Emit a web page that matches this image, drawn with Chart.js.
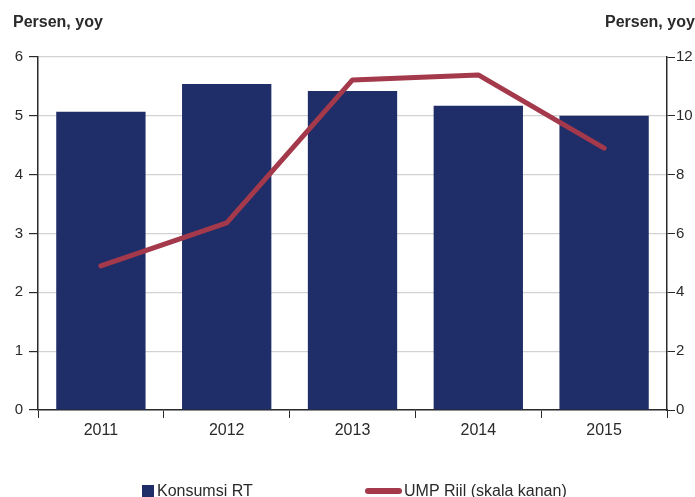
<!DOCTYPE html>
<html>
<head>
<meta charset="utf-8">
<title>Konsumsi RT dan UMP Riil</title>
<script src="https://cdn.jsdelivr.net/npm/chart.js@4/dist/chart.umd.min.js"></script>
<style>
  html, body { margin: 0; padding: 0; background: #fff; overflow: hidden; }
  #wrap { position: relative; width: 695px; height: 497px; overflow: hidden; }
  canvas { position: absolute; left: 0; top: 0; }
</style>
</head>
<body>
<div id="wrap">
  <canvas id="konsumsiChart" width="710" height="497"></canvas>
</div>
<script>
// Tahun dan nilai pertumbuhan (persen, yoy)
const years = ['2011', '2012', '2013', '2014', '2015'];
const konsumsiRT = [5.07, 5.54, 5.42, 5.17, 5.0];
const umpRiil = [4.9, 6.36, 11.22, 11.39, 8.9];
const leftTicks = [0, 1, 2, 3, 4, 5, 6];
const rightTicks = [0, 2, 4, 6, 8, 10, 12];
const axisTitle = 'Persen, yoy';

const FONT = '"Liberation Sans", Arial, sans-serif';
const NAVY = '#1f2d68';
const RED = '#a3394a';
const INK = '#2a2a2a';

// Judul sumbu dan legenda digambar di atas kanvas
const decorPlugin = {
  id: 'decor',
  afterDraw(chart) {
    const ctx = chart.ctx;
    ctx.save();
    ctx.fillStyle = INK;
    ctx.textBaseline = 'alphabetic';
    ctx.textAlign = 'left';
    ctx.font = 'bold 16px ' + FONT;
    ctx.fillText(axisTitle, 13, 27);
    ctx.fillText(axisTitle, 605, 27);

    // legenda: kotak untuk batang, garis untuk UMP
    const bars = chart.data.datasets.find(d => d.type === 'bar');
    const line = chart.data.datasets.find(d => d.type === 'line');
    ctx.font = '16px ' + FONT;
    ctx.fillStyle = bars.backgroundColor;
    ctx.fillRect(142, 485, 12, 12);
    ctx.fillStyle = INK;
    ctx.fillText(bars.label, 157, 496);

    ctx.strokeStyle = line.borderColor;
    ctx.lineWidth = 6;
    ctx.lineCap = 'round';
    ctx.beginPath();
    ctx.moveTo(368, 491);
    ctx.lineTo(399, 491);
    ctx.stroke();
    ctx.fillText(line.label, 404, 496);
    ctx.restore();
  }
};

const ctx = document.getElementById('konsumsiChart').getContext('2d');
const chart = new Chart(ctx, {
  type: 'bar',
  data: {
    labels: years,
    datasets: [
      {
        type: 'line',
        label: 'UMP Riil (skala kanan)',
        data: umpRiil,
        yAxisID: 'y1',
        borderColor: RED,
        backgroundColor: RED,
        borderWidth: 5,
        borderCapStyle: 'round',
        borderJoinStyle: 'round',
        pointRadius: 0,
        tension: 0,
        order: 0
      },
      {
        type: 'bar',
        label: 'Konsumsi RT',
        data: konsumsiRT,
        yAxisID: 'y',
        backgroundColor: NAVY,
        borderWidth: 0,
        categoryPercentage: 1,
        barPercentage: 0.71,
        order: 1
      }
    ]
  },
  options: {
    responsive: false,
    animation: false,
    layout: { padding: { top: 57, left: 0, right: 0, bottom: 0 } },
    plugins: {
      legend: { display: false },
      tooltip: { enabled: false }
    },
    scales: {
      x: {
        grid: { drawOnChartArea: false, tickLength: 8, tickColor: INK, offset: true },
        border: { color: INK, width: 1.5 },
        ticks: { color: INK, font: { family: FONT, size: 16 }, padding: 3 },
        afterFit(scale) { scale.height = 87; }
      },
      y: {
        position: 'left',
        min: 0,
        max: 6,
        afterBuildTicks(scale) { scale.ticks = leftTicks.map(v => ({ value: v })); },
        grid: { color: '#d2d2d2', lineWidth: 1.2, tickLength: 9, tickColor: INK },
        border: { color: INK, width: 1.5 },
        ticks: { color: INK, font: { family: FONT, size: 15 }, padding: 6 },
        afterFit(scale) { scale.width = 38; }
      },
      y1: {
        position: 'right',
        min: 0,
        max: 12,
        afterBuildTicks(scale) { scale.ticks = rightTicks.map(v => ({ value: v })); },
        grid: { drawOnChartArea: false, tickLength: 8, tickColor: INK },
        border: { color: INK, width: 1.5 },
        ticks: { color: INK, font: { family: FONT, size: 15 }, padding: 1 },
        afterFit(scale) { scale.width = 43; }
      }
    }
  },
  plugins: [decorPlugin]
});
</script>
</body>
</html>
